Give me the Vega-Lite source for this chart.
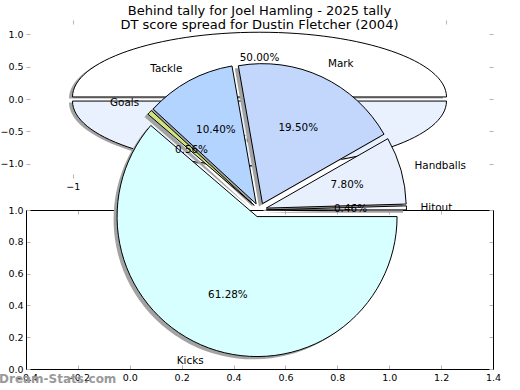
{
  "$schema": "https://vega.github.io/schema/vega-lite/v6.json",
  "width": 467,
  "height": 159,
  "autosize": {"type": "none"},
  "padding": {"left": 26, "top": 210, "right": 27, "bottom": 21},
  "background": "white",
  "title": {
    "text": ["Behind tally for Joel Hamling - 2025 tally", "DT score spread for Dustin Fletcher (2004)"],
    "font": "DejaVu Sans",
    "fontSize": 13,
    "fontWeight": "normal",
    "color": "#000",
    "lineHeight": 14.5,
    "anchor": "middle",
    "frame": "group",
    "baseline": "bottom",
    "offset": -25.5
  },
  "config": {
    "view": {"stroke": null},
    "font": "DejaVu Sans",
    "text": {"font": "DejaVu Sans", "fontSize": 10.4, "color": "#000"},
    "axis": {
      "labelFont": "DejaVu Sans",
      "labelFontSize": 9.5,
      "labelColor": "#000",
      "tickColor": "#b5b5b5",
      "tickSize": -4,
      "tickWidth": 1,
      "grid": false,
      "labelFlush": false,
      "labelOverlap": false,
      "domainColor": "#000",
      "domainWidth": 1,
      "labelPadding": 7
    }
  },
  "datasets": {
    "dt": [
      {"stat": "Hitout", "value": 0.46},
      {"stat": "Handballs", "value": 7.80},
      {"stat": "Mark", "value": 19.50},
      {"stat": "Tackle", "value": 10.40},
      {"stat": "Goals", "value": 0.56},
      {"stat": "Kicks", "value": 61.28}
    ],
    "behinds": [
      {"part": "Upper", "value": 50},
      {"part": "Lower", "value": 50}
    ]
  },
  "layer": [
    {
      "data": {"name": "behinds"},
      "transform": [
        {"calculate": "format(datum.value, '.2f') + '%'", "as": "pct"}
      ],
      "layer": [
        {
          "mark": {"type": "point", "filled": true, "opacity": 1, "size": 139876, "color": "#a3a3a3", "strokeWidth": 0, "xOffset": -3.5, "yOffset": 1.5},
          "encoding": {
            "x": {"datum": 0, "type": "quantitative", "scale": {"domain": [-1.25, 1.25], "nice": false, "zero": false},
                  "axis": {"orient": "bottom", "title": null, "values": [-1, 0], "format": "d", "domain": false, "offset": -191}},
            "y": {"datum": 0, "type": "quantitative", "scale": {"domain": [-1.22, 1.22], "range": [-32.1, -189.9], "nice": false, "zero": false},
                  "axis": {"orient": "left", "title": null, "values": [-1, -0.5, 0, 0.5, 1], "format": ".1f", "domain": false}},
            "shape": {"field": "part", "type": "nominal", "legend": null,
                      "scale": {"domain": ["Upper", "Lower"], "range": [
                        "M-1,-0.011 C-1,-0.202 -0.552,-0.357 0,-0.357 C0.552,-0.357 1,-0.202 1,-0.011 Z",
                        "M-1,0.011 C-1,0.202 -0.552,0.357 0,0.357 C0.552,0.357 1,0.202 1,0.011 Z"]}}
          }
        },
        {
          "mark": {"type": "point", "filled": true, "opacity": 1, "size": 139876, "stroke": "#000", "strokeWidth": 1},
          "encoding": {
            "x": {"datum": 0, "type": "quantitative", "scale": {"domain": [-1.25, 1.25], "nice": false, "zero": false},
                  "axis": {"orient": "top", "title": null, "values": [-1, 0, 1], "labels": false, "domain": false, "offset": 190}},
            "y": {"datum": 0, "type": "quantitative", "scale": {"domain": [-1.22, 1.22], "range": [-32.1, -189.9], "nice": false, "zero": false},
                  "axis": {"orient": "right", "title": null, "values": [-1, -0.5, 0, 0.5, 1], "labels": false, "domain": false}},
            "shape": {"field": "part", "type": "nominal", "legend": null,
                      "scale": {"domain": ["Upper", "Lower"], "range": [
                        "M-1,-0.011 C-1,-0.202 -0.552,-0.357 0,-0.357 C0.552,-0.357 1,-0.202 1,-0.011 Z",
                        "M-1,0.011 C-1,0.202 -0.552,0.357 0,0.357 C0.552,0.357 1,0.202 1,0.011 Z"]}},
            "color": {"field": "part", "type": "nominal", "legend": null,
                      "scale": {"domain": ["Upper", "Lower"], "range": ["#ffffff", "#e9f0fe"]}}
          }
        },
        {
          "mark": {"type": "text", "radius": 41, "fontSize": 10.4},
          "encoding": {
            "x": {"datum": 0, "type": "quantitative", "scale": {"domain": [-1.25, 1.25], "nice": false, "zero": false}, "axis": null},
            "y": {"datum": 0, "type": "quantitative", "scale": {"domain": [-1.22, 1.22], "range": [-32.1, -189.9], "nice": false, "zero": false}, "axis": null},
            "theta": {"field": "value", "type": "quantitative", "stack": true, "scale": {"domain": [0, 100], "range": [1.5707963, -4.712389]}},
            "text": {"field": "pct", "type": "nominal"}
          }
        }
      ],
      "resolve": {"axis": {"x": "independent", "y": "independent"}}
    },
    {
      "data": {"name": "dt"},
      "transform": [
        {"stack": "value", "groupby": [], "as": ["v0", "v1"]},
        {"calculate": "(datum.v0 + datum.v1) / 2", "as": "mid"},
        {"calculate": "format(datum.value, '.2f') + '%'", "as": "pct"}
      ],
      "layer": [
        {
          "mark": {"type": "arc", "radius": 140, "color": "#a3a3a3", "strokeWidth": 0,
                   "xOffset": {"expr": "7*cos(PI*(datum.v0+datum.v1)/100) - 3.5"},
                   "yOffset": {"expr": "-7*sin(PI*(datum.v0+datum.v1)/100) + 2.8"}},
          "encoding": {
            "x": {"datum": 0.5, "type": "quantitative", "scale": {"domain": [-0.4, 1.4], "nice": false, "zero": false},
                  "axis": {"orient": "bottom", "title": null, "values": [-0.4, -0.2, 0, 0.2, 0.4, 0.6, 0.8, 1, 1.2, 1.4], "format": ".1f"}},
            "y": {"datum": 1, "type": "quantitative", "scale": {"domain": [0, 1], "nice": false, "zero": false},
                  "axis": {"orient": "left", "title": null, "values": [0, 0.2, 0.4, 0.6, 0.8, 1], "format": ".1f"}},
            "theta": {"field": "v0", "type": "quantitative", "stack": null, "scale": {"domain": [0, 100], "range": [1.5707963, -4.712389]}},
            "theta2": {"field": "v1"}
          }
        },
        {
          "mark": {"type": "arc", "radius": 140, "stroke": "#000", "strokeWidth": 1,
                   "xOffset": {"expr": "7*cos(PI*(datum.v0+datum.v1)/100)"},
                   "yOffset": {"expr": "-7*sin(PI*(datum.v0+datum.v1)/100)"}},
          "encoding": {
            "x": {"datum": 0.5, "type": "quantitative", "scale": {"domain": [-0.4, 1.4], "nice": false, "zero": false},
                  "axis": {"orient": "top", "title": null, "values": [-0.4, -0.2, 0, 0.2, 0.4, 0.6, 0.8, 1, 1.2, 1.4], "labels": false}},
            "y": {"datum": 1, "type": "quantitative", "scale": {"domain": [0, 1], "nice": false, "zero": false},
                  "axis": {"orient": "right", "title": null, "values": [0, 0.2, 0.4, 0.6, 0.8, 1], "labels": false}},
            "theta": {"field": "v0", "type": "quantitative", "stack": null, "scale": {"domain": [0, 100], "range": [1.5707963, -4.712389]}},
            "theta2": {"field": "v1"},
            "color": {"field": "stat", "type": "nominal", "legend": null,
                      "scale": {"domain": ["Hitout", "Handballs", "Mark", "Tackle", "Goals", "Kicks"],
                                "range": ["#f8f8ff", "#e8effd", "#c3d7fd", "#b3d4fe", "#cfe57f", "#d8ffff"]}}
          }
        },
        {
          "mark": {"type": "text", "radius": 84, "fontSize": 10.4,
                   "xOffset": {"expr": "7*cos(PI*(datum.v0+datum.v1)/100)"},
                   "yOffset": {"expr": "-7*sin(PI*(datum.v0+datum.v1)/100)"}},
          "encoding": {
            "x": {"datum": 0.5, "type": "quantitative", "scale": {"domain": [-0.4, 1.4], "nice": false, "zero": false}, "axis": null},
            "y": {"datum": 1, "type": "quantitative", "scale": {"domain": [0, 1], "nice": false, "zero": false}, "axis": null},
            "theta": {"field": "mid", "type": "quantitative", "stack": null, "scale": {"domain": [0, 100], "range": [1.5707963, -4.712389]}},
            "text": {"field": "pct", "type": "nominal"}
          }
        },
        {
          "transform": [{"filter": {"field": "stat", "oneOf": ["Hitout", "Handballs", "Mark"]}}],
          "mark": {"type": "text", "radius": 154, "fontSize": 10.4, "align": "left", "baseline": "middle",
                   "xOffset": {"expr": "7*cos(PI*(datum.v0+datum.v1)/100)"},
                   "yOffset": {"expr": "-7*sin(PI*(datum.v0+datum.v1)/100)"}},
          "encoding": {
            "x": {"datum": 0.5, "type": "quantitative", "scale": {"domain": [-0.4, 1.4], "nice": false, "zero": false}, "axis": null},
            "y": {"datum": 1, "type": "quantitative", "scale": {"domain": [0, 1], "nice": false, "zero": false}, "axis": null},
            "theta": {"field": "mid", "type": "quantitative", "stack": null, "scale": {"domain": [0, 100], "range": [1.5707963, -4.712389]}},
            "text": {"field": "stat", "type": "nominal"}
          }
        },
        {
          "transform": [{"filter": {"field": "stat", "oneOf": ["Tackle", "Goals", "Kicks"]}}],
          "mark": {"type": "text", "radius": 154, "fontSize": 10.4, "align": "right", "baseline": "middle",
                   "xOffset": {"expr": "7*cos(PI*(datum.v0+datum.v1)/100)"},
                   "yOffset": {"expr": "-7*sin(PI*(datum.v0+datum.v1)/100)"}},
          "encoding": {
            "x": {"datum": 0.5, "type": "quantitative", "scale": {"domain": [-0.4, 1.4], "nice": false, "zero": false}, "axis": null},
            "y": {"datum": 1, "type": "quantitative", "scale": {"domain": [0, 1], "nice": false, "zero": false}, "axis": null},
            "theta": {"field": "mid", "type": "quantitative", "stack": null, "scale": {"domain": [0, 100], "range": [1.5707963, -4.712389]}},
            "text": {"field": "stat", "type": "nominal"}
          }
        },
        {
          "data": {"values": [{"mark": "Dream-Stats.com"}]},
          "mark": {"type": "text", "align": "left", "baseline": "middle", "dx": -27, "dy": 10, "fontSize": 12, "fontWeight": "bold", "color": "#9a9a9a"},
          "encoding": {
            "x": {"datum": -0.4, "type": "quantitative", "scale": {"domain": [-0.4, 1.4], "nice": false, "zero": false}, "axis": null},
            "y": {"datum": 0, "type": "quantitative", "scale": {"domain": [0, 1], "nice": false, "zero": false}, "axis": null},
            "text": {"field": "mark", "type": "nominal"}
          }
        }
      ],
      "resolve": {"axis": {"x": "independent", "y": "independent"}}
    }
  ],
  "resolve": {"scale": {"x": "independent", "y": "independent", "theta": "independent", "color": "independent"}}
}
